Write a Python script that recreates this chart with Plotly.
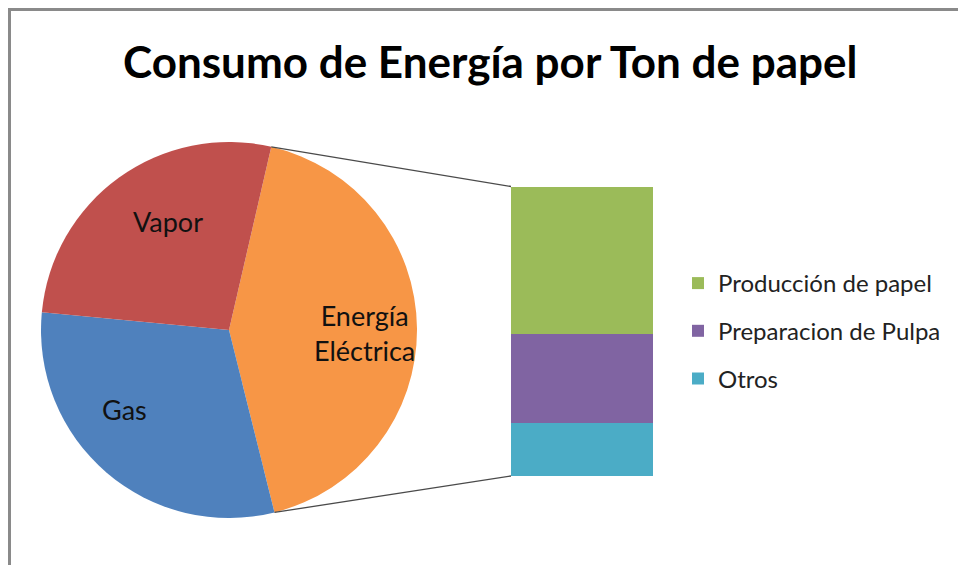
import math
import plotly.graph_objects as go

# ---- data ----
pie_labels = ["Energía Eléctrica", "Gas", "Vapor"]
pie_text = ["Energía<br>Eléctrica", "Gas", "Vapor"]
pie_values = [42.5, 30.4, 27.1]
pie_colors = ["#F79646", "#4F81BD", "#C0504D"]

bar_labels = ["Otros", "Preparacion de Pulpa", "Producción de papel"]
bar_values = [7.8, 13.1, 21.6]
bar_colors = ["#4BACC6", "#8064A2", "#9BBB59"]
legend_ranks = [3, 2, 1]

title_text = "Consumo de Energía por Ton de papel"

# ---- layout / style constants (pixels) ----
W, H = 958, 565
cx, cy, R = 229, 330, 188
rotation = 13
bar_left, bar_right, bar_top, bar_bottom = 511, 653, 186.5, 476
FONT = "Lato, sans-serif"
# label placement style: angular nudge (deg) and radial fraction per slice
label_nudge = [1.8, 12.0, 6.3]
label_rfrac = [0.72, 0.70, 0.66]


def px(x):
    return x / W


def py(y):
    return 1 - y / H


fig = go.Figure()

fig.add_trace(go.Pie(
    labels=pie_labels, values=pie_values, text=pie_text,
    textinfo="none", hoverinfo="label+value",
    sort=False, direction="clockwise", rotation=rotation,
    marker=dict(colors=pie_colors, line=dict(width=0)),
    domain=dict(x=[px(cx - R), px(cx + R)], y=[py(cy + R), py(cy - R)]),
    showlegend=False,
))

for lab, val, col, rk in zip(bar_labels, bar_values, bar_colors, legend_ranks):
    fig.add_trace(go.Bar(
        x=[0], y=[val], name=lab, width=1,
        marker=dict(color=col, line=dict(width=0)),
        xaxis="x2", yaxis="y2", legendgroup=lab, legendrank=rk,
    ))

total_bar = sum(bar_values)
pie_total = sum(pie_values)

# connector lines from the split slice to the bar
a1 = math.radians(rotation)
a2 = math.radians(rotation + 360 * pie_values[0] / pie_total)
p1 = (cx + R * math.sin(a1), cy - R * math.cos(a1))
p2 = (cx + R * math.sin(a2), cy - R * math.cos(a2))
shapes = [
    dict(type="line", xref="paper", yref="paper",
         x0=px(p1[0]), y0=py(p1[1]), x1=px(bar_left), y1=py(bar_top),
         line=dict(color="#4a4a4a", width=1.3)),
    dict(type="line", xref="paper", yref="paper",
         x0=px(p2[0]), y0=py(p2[1]), x1=px(bar_left), y1=py(bar_bottom),
         line=dict(color="#4a4a4a", width=1.3)),
    # chart-area frame (only top and left edges are visible in the crop)
    dict(type="line", xref="paper", yref="paper",
         x0=px(8), y0=py(9.5), x1=px(W), y1=py(9.5),
         line=dict(color="#8a8a8a", width=3)),
    dict(type="line", xref="paper", yref="paper",
         x0=px(9.5), y0=py(8), x1=px(9.5), y1=py(H),
         line=dict(color="#8a8a8a", width=3)),
]

# slice labels
annotations = []
cum = 0
for txt, val, nd, rf in zip(pie_text, pie_values, label_nudge, label_rfrac):
    mid = math.radians(rotation + 360 * (cum + val / 2) / pie_total + nd)
    cum += val
    lx = cx + rf * R * math.sin(mid)
    ly = cy - rf * R * math.cos(mid)
    annotations.append(dict(
        x=px(lx), y=py(ly), xref="paper", yref="paper", text=txt,
        showarrow=False, xanchor="center", yanchor="middle",
        font=dict(family=FONT, size=27, color="#111111"),
    ))

annotations.append(dict(
    x=px(490), y=py(61), xref="paper", yref="paper", text="<b>" + title_text + "</b>",
    showarrow=False, xanchor="center", yanchor="middle",
    font=dict(family=FONT, size=44, color="#000000"),
))

fig.update_layout(
    width=W, height=H,
    margin=dict(l=0, r=0, t=0, b=0),
    paper_bgcolor="white", plot_bgcolor="white",
    barmode="stack",
    xaxis2=dict(domain=[px(bar_left), px(bar_right)], range=[-0.5, 0.5],
                visible=False, anchor="y2", fixedrange=True),
    yaxis2=dict(domain=[py(bar_bottom), py(bar_top)], range=[0, total_bar],
                visible=False, anchor="x2", fixedrange=True),
    xaxis=dict(visible=False), yaxis=dict(visible=False),
    legend=dict(x=px(678), y=py(261), xanchor="left", yanchor="top",
                traceorder="grouped", tracegroupgap=13.5,
                font=dict(family=FONT, size=24, color="#222222"),
                bgcolor="rgba(0,0,0,0)"),
    shapes=shapes,
    annotations=annotations,
    showlegend=True,
)

fig.write_html(
    "out.html",
    config={"displayModeBar": False},
    post_script="document.body.style.margin='0';document.body.style.overflow='hidden';",
)
